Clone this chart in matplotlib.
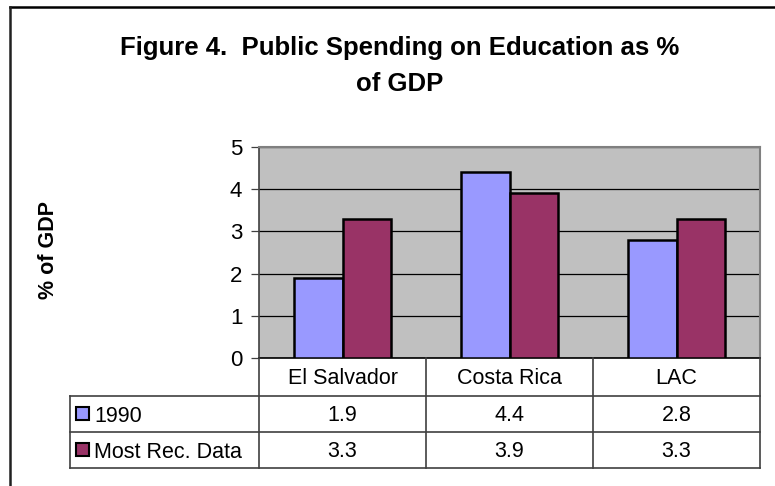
import matplotlib
matplotlib.use('Agg')
import matplotlib.pyplot as plt
from matplotlib.lines import Line2D
from matplotlib.patches import Rectangle
import numpy as np

plt.rcParams['font.family'] = ['Liberation Sans', 'DejaVu Sans']

# data
categories = ['El Salvador', 'Costa Rica', 'LAC']
series_names = ['1990', 'Most Rec. Data']
vals_1990 = [1.9, 4.4, 2.8]
vals_recent = [3.3, 3.9, 3.3]
yticks = [0, 1, 2, 3, 4, 5]

colors = ['#9999FF', '#993366']

W, H = 775, 486
fig = plt.figure(figsize=(W / 100, H / 100), dpi=100)

def fx(px):
    return px / W

def fy(py):
    return 1 - py / H

# plot area in pixel coords
left, right, top, bottom = 259, 760, 147, 358
ax = fig.add_axes([fx(left), fy(bottom), fx(right) - fx(left), fy(top) - fy(bottom)])
ax.set_facecolor('#C0C0C0')

x = np.arange(len(categories))
bw = 0.29
ax.bar(x - bw / 2, vals_1990, bw, color=colors[0], edgecolor='black', linewidth=1.8, zorder=3)
ax.bar(x + bw / 2, vals_recent, bw, color=colors[1], edgecolor='black', linewidth=1.8, zorder=3)

ax.set_xlim(-0.5, len(categories) - 0.5)
ax.set_ylim(0, 5)
ax.set_yticks(yticks)
ax.set_yticklabels([str(v) for v in yticks], fontsize=16)
ax.set_xticks([])
ax.yaxis.grid(True, color='black', linewidth=0.9, zorder=1)
ax.tick_params(axis='y', length=6, width=0.9, color='#404040', pad=6)
for s in ['top', 'right']:
    ax.spines[s].set_color('#808080')
    ax.spines[s].set_linewidth(1.5)
ax.spines['left'].set_color('#404040')
ax.spines['left'].set_linewidth(1.2)
ax.spines['bottom'].set_color('black')
ax.spines['bottom'].set_linewidth(1.2)

# data table under the plot
rows = [358, 396, 432, 468]
tbl_left = 70
col_edges = [left + (right - left) * i / 3 for i in range(4)]
lw = 1.2
for r in rows[1:]:
    fig.add_artist(Line2D([fx(tbl_left), fx(right)], [fy(r), fy(r)], color='#404040', lw=lw))
fig.add_artist(Line2D([fx(tbl_left), fx(tbl_left)], [fy(rows[1]), fy(rows[3])], color='#404040', lw=lw))
for c in col_edges:
    fig.add_artist(Line2D([fx(c), fx(c)], [fy(rows[0]), fy(rows[3])], color='#404040', lw=lw))

fs = 15.5
for i, cat in enumerate(categories):
    cx = fx((col_edges[i] + col_edges[i + 1]) / 2)
    fig.text(cx, fy((rows[0] + rows[1]) / 2 + 1), cat, ha='center', va='center', fontsize=fs)
    fig.text(cx, fy((rows[1] + rows[2]) / 2 + 1), f'{vals_1990[i]:.1f}', ha='center', va='center', fontsize=fs)
    fig.text(cx, fy((rows[2] + rows[3]) / 2 + 1), f'{vals_recent[i]:.1f}', ha='center', va='center', fontsize=fs)

for j, name in enumerate(series_names):
    yc = (rows[j + 1] + rows[j + 2]) / 2
    fig.add_artist(Rectangle((fx(76), fy(yc + 6)), fx(13), 13 / H,
                             facecolor=colors[j], edgecolor='black', linewidth=1.5))
    fig.text(fx(94), fy(yc + 2), name, ha='left', va='center', fontsize=fs)

# title and y label
fig.text(fx(400), fy(48), 'Figure 4.  Public Spending on Education as %', ha='center', va='center',
         fontsize=18.5, fontweight='bold')
fig.text(fx(400), fy(84), 'of GDP', ha='center', va='center', fontsize=18.5, fontweight='bold')
fig.text(fx(48), fy(250), '% of GDP', ha='center', va='center', rotation=90, fontsize=15.5, fontweight='bold')

# outer frame (only top and left visible)
fig.add_artist(Line2D([fx(10), fx(775)], [fy(7), fy(7)], color='black', lw=1.8))
fig.add_artist(Line2D([fx(10), fx(10)], [fy(7), fy(486)], color='#202020', lw=1.8))

fig.savefig('out.png', dpi=100)
